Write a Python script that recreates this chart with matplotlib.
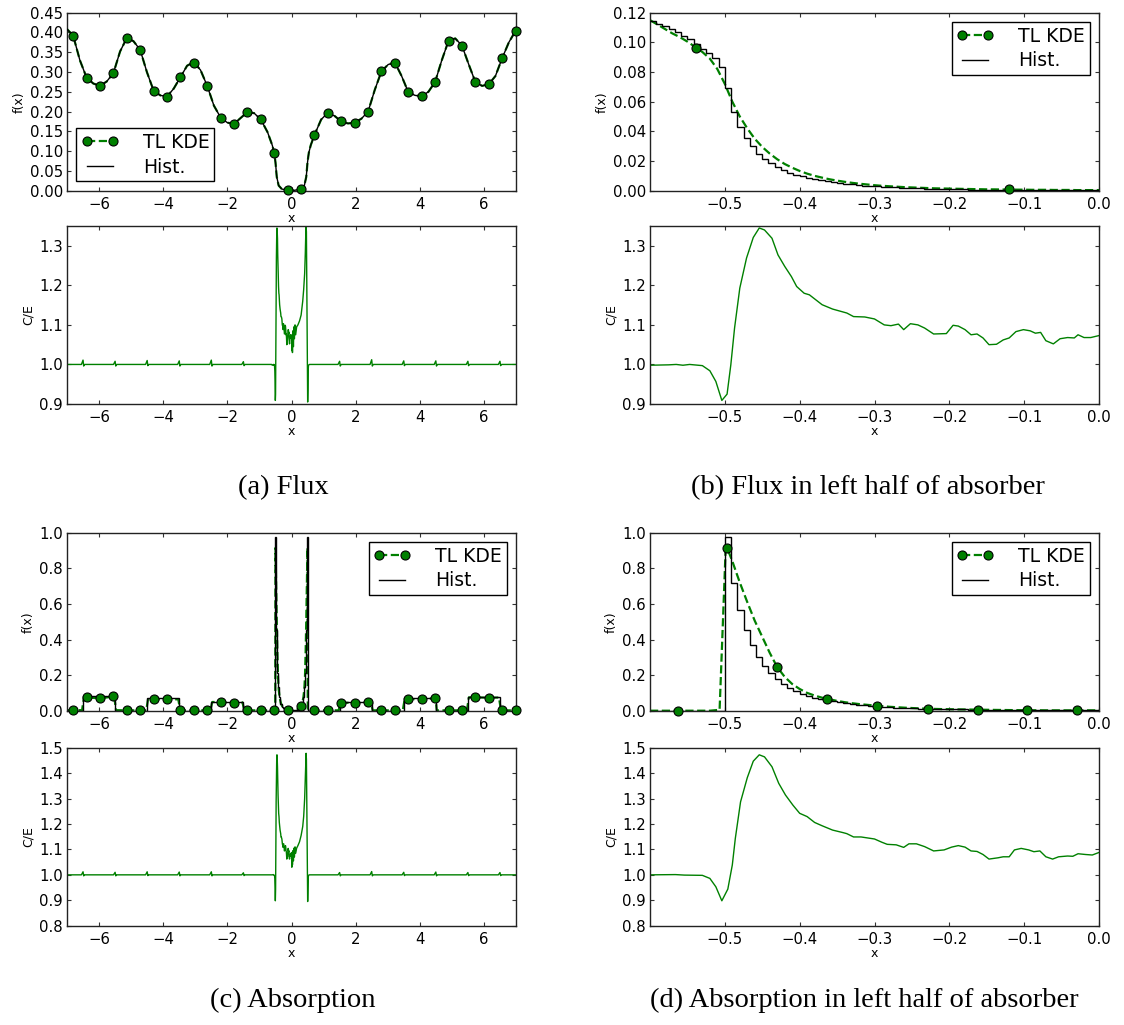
import numpy as np
import matplotlib
matplotlib.use("Agg")
import matplotlib.pyplot as plt
from matplotlib.lines import Line2D

# ---------------- DATA ----------------
# (a) Flux over whole domain: TL KDE curve (Hist. coincides at this scale)
flux_a_x = [-7.017, -6.808, -6.599, -6.390, -6.181, -5.972, -5.763, -5.554, -5.345, -5.136,
            -4.927, -4.718, -4.509, -4.300, -4.091, -3.882, -3.673, -3.464, -3.255, -3.046,
            -2.837, -2.628, -2.419, -2.210, -2.001, -1.792, -1.583, -1.374, -1.165, -0.956,
            -0.747,
            -0.600, -0.538, -0.500, -0.460, -0.400, -0.300, -0.120, 0.089, 0.300, 0.400,
            0.460, 0.500, 0.540, 0.600,
            0.716, 0.925, 1.134, 1.343, 1.552, 1.761, 1.970, 2.179, 2.388, 2.597,
            2.806, 3.015, 3.224, 3.433, 3.642, 3.851, 4.060, 4.269, 4.478, 4.687,
            4.896, 5.105, 5.314, 5.523, 5.732, 5.941, 6.150, 6.359, 6.568, 6.777, 6.986]
flux_a_kde = [0.410, 0.392, 0.330, 0.286, 0.271, 0.265, 0.276, 0.297, 0.352, 0.386,
              0.378, 0.356, 0.300, 0.253, 0.241, 0.238, 0.258, 0.287, 0.316, 0.325,
              0.305, 0.265, 0.215, 0.185, 0.172, 0.169, 0.184, 0.199, 0.196, 0.180,
              0.148,
              0.115, 0.096, 0.072, 0.035, 0.013, 0.004, 0.002, 0.001, 0.004, 0.013,
              0.035, 0.072, 0.096, 0.115,
              0.141, 0.180, 0.197, 0.189, 0.175, 0.170, 0.172, 0.182, 0.200, 0.255,
              0.302, 0.319, 0.324, 0.290, 0.249, 0.241, 0.239, 0.250, 0.275, 0.330,
              0.379, 0.385, 0.367, 0.320, 0.275, 0.265, 0.269, 0.290, 0.335, 0.375, 0.404]
flux_a_hist = flux_a_kde

# KDE marker sample points (panels a and c)
mark_x = [-6.808, -6.390, -5.972, -5.554, -5.136, -4.718, -4.300, -3.882, -3.464, -3.046,
          -2.628, -2.210, -1.792, -1.374, -0.956, -0.538, -0.120, 0.298, 0.716, 1.134,
          1.552, 1.970, 2.388, 2.806, 3.224, 3.642, 4.060, 4.478, 4.896, 5.314,
          5.732, 6.150, 6.568, 6.986]
flux_a_mark = [0.392, 0.286, 0.265, 0.297, 0.385, 0.356, 0.253, 0.238, 0.287, 0.324,
               0.265, 0.185, 0.169, 0.199, 0.180, 0.096, 0.002, 0.004, 0.141, 0.197,
               0.175, 0.172, 0.200, 0.302, 0.324, 0.249, 0.239, 0.275, 0.379, 0.367,
               0.275, 0.269, 0.335, 0.404]

# (b) Flux in left half of absorber
flux_b_x = np.round(np.arange(-0.60, 0.0001, 0.01), 2)
flux_b_kde = [0.1150, 0.1120, 0.1090, 0.1060, 0.1035, 0.1005, 0.0970, 0.0935, 0.0890, 0.0820,
              0.0720, 0.0600, 0.0500, 0.0420, 0.0350, 0.0295, 0.0250, 0.0212, 0.0180, 0.0155,
              0.0133, 0.0115, 0.0100, 0.0088, 0.0077, 0.0068, 0.0060, 0.0053, 0.0047, 0.0042,
              0.0037, 0.0033, 0.0030, 0.0027, 0.0024, 0.0022, 0.0020, 0.0018, 0.0016, 0.0015,
              0.0014, 0.0013, 0.0012, 0.0011, 0.0010, 0.0009, 0.0009, 0.0008, 0.0008, 0.0007,
              0.0007, 0.0006, 0.0006, 0.0006, 0.0005, 0.0005, 0.0005, 0.0004, 0.0004, 0.0004,
              0.0004]
flux_b_mark_x = [-0.538, -0.120]
flux_b_mark = [0.0964, 0.0010]
hist_b_edges = np.linspace(-0.6, 0.0, 73)
flux_b_hist = [0.1145, 0.1125, 0.1110, 0.1090, 0.1070, 0.1045, 0.1020, 0.0990, 0.0955, 0.0925,
               0.0895, 0.0836,
               0.0690, 0.0530, 0.0430, 0.0357, 0.0298, 0.0250, 0.0215, 0.0185, 0.0160, 0.0138,
               0.0120, 0.0107,
               0.0096, 0.0087, 0.0079, 0.0072, 0.0065, 0.0059, 0.0053, 0.0048, 0.0043, 0.0039,
               0.0035, 0.0032,
               0.0029, 0.0026, 0.0024, 0.0022, 0.0020, 0.0018,
               0.0016, 0.0015, 0.0014, 0.0013, 0.0012, 0.0011,
               0.0010, 0.0009, 0.0009, 0.0008, 0.0008, 0.0007,
               0.0007, 0.0006, 0.0006, 0.0005, 0.0005, 0.0005,
               0.0004, 0.0004, 0.0004, 0.0003, 0.0003, 0.0003,
               0.0003, 0.0003, 0.0002, 0.0002, 0.0002, 0.0002]

# (c) Absorption over whole domain
abs_c_x = [-7.0, -6.808, -6.53, -6.47, -6.39, -5.972, -5.554, -5.53, -5.47, -5.136,
           -4.718, -4.53, -4.47, -4.30, -3.882, -3.53, -3.47, -3.046, -2.628, -2.53,
           -2.47, -2.21, -1.792, -1.53, -1.47, -1.374, -0.956, -0.538, -0.507, -0.503,
           -0.499, -0.497, -0.48, -0.46, -0.44, -0.42, -0.40, -0.37, -0.33, -0.30,
           -0.25, -0.20, -0.12, -0.05, 0.05, 0.12, 0.20, 0.25, 0.298, 0.33,
           0.37, 0.40, 0.42, 0.44, 0.46, 0.48, 0.497, 0.499, 0.503, 0.507,
           0.716, 1.134, 1.47, 1.53, 1.552, 1.97, 2.388, 2.47, 2.53, 2.806,
           3.224, 3.47, 3.53, 3.642, 4.06, 4.478, 4.49, 4.53, 4.896, 5.314,
           5.47, 5.53, 5.732, 6.15, 6.47, 6.53, 6.568, 6.986, 7.0]
abs_c_kde = [0.003, 0.003, 0.003, 0.076, 0.075, 0.069, 0.080, 0.080, 0.003, 0.002,
             0.002, 0.002, 0.067, 0.066, 0.063, 0.064, 0.002, 0.002, 0.002, 0.002,
             0.049, 0.048, 0.045, 0.047, 0.002, 0.002, 0.002, 0.002, 0.005, 0.450,
             0.900, 0.915, 0.720, 0.505, 0.325, 0.190, 0.122, 0.073, 0.042, 0.029,
             0.015, 0.008, 0.004, 0.002, 0.002, 0.004, 0.009, 0.016, 0.027, 0.042,
             0.073, 0.122, 0.190, 0.325, 0.505, 0.720, 0.915, 0.900, 0.450, 0.005,
             0.002, 0.002, 0.002, 0.046, 0.045, 0.044, 0.050, 0.050, 0.002, 0.002,
             0.002, 0.002, 0.066, 0.065, 0.065, 0.070, 0.070, 0.002, 0.002, 0.002,
             0.002, 0.075, 0.075, 0.073, 0.074, 0.002, 0.002, 0.002, 0.002]
abs_c_mark = [0.003, 0.075, 0.069, 0.080, 0.002, 0.002, 0.066, 0.063, 0.002, 0.002,
              0.002, 0.048, 0.045, 0.002, 0.002, 0.002, 0.004, 0.027, 0.002, 0.002,
              0.045, 0.044, 0.050, 0.002, 0.002, 0.065, 0.065, 0.070, 0.002, 0.002,
              0.075, 0.073, 0.002, 0.002]
abs_c_edges = [-7.0, -6.5, -5.5, -4.5, -3.5, -2.5, -1.5, -0.5,
               -0.4917, -0.4833, -0.475, -0.4667, -0.4583, -0.45, -0.4417, -0.4333, -0.425, -0.40,
               -0.35, -0.30, -0.25, -0.20, -0.10,
               0.10, 0.20, 0.25, 0.30, 0.35, 0.40,
               0.425, 0.4333, 0.4417, 0.45, 0.4583, 0.4667, 0.475, 0.4833, 0.4917, 0.5,
               1.5, 2.5, 3.5, 4.5, 5.5, 6.5, 7.0]
abs_c_hist = [0.0, 0.080, 0.0, 0.069, 0.0, 0.050, 0.0,
              0.974, 0.719, 0.566, 0.453, 0.367, 0.303, 0.251, 0.210, 0.176, 0.135,
              0.075, 0.040, 0.022, 0.013, 0.006, 0.003,
              0.006, 0.013, 0.022, 0.040, 0.075, 0.135,
              0.176, 0.210, 0.251, 0.303, 0.367, 0.453, 0.566, 0.719, 0.974,
              0.0, 0.050, 0.0, 0.072, 0.0, 0.079, 0.0]

# (d) Absorption in left half of absorber
abs_d_x = [-0.60, -0.563, -0.52, -0.507, -0.503, -0.499, -0.497, -0.49, -0.48, -0.47,
           -0.46, -0.45, -0.44, -0.43, -0.42, -0.41, -0.40, -0.39, -0.38, -0.37,
           -0.363, -0.35, -0.34, -0.33, -0.32, -0.31, -0.30, -0.296, -0.28, -0.26,
           -0.24, -0.229, -0.21, -0.19, -0.162, -0.14, -0.12, -0.096, -0.07, -0.05,
           -0.029, 0.0]
abs_d_kde = [0.0, 0.0, 0.0, 0.005, 0.45, 0.90, 0.915, 0.84, 0.72, 0.61,
             0.505, 0.415, 0.325, 0.245, 0.190, 0.150, 0.122, 0.100, 0.085, 0.073,
             0.067, 0.055, 0.048, 0.042, 0.037, 0.033, 0.029, 0.028, 0.022, 0.017,
             0.013, 0.011, 0.009, 0.0075, 0.006, 0.0045, 0.0035, 0.0025, 0.002, 0.002,
             0.002, 0.002]
abs_d_mark_x = [-0.563, -0.497, -0.430, -0.363, -0.296, -0.229, -0.162, -0.096, -0.029]
abs_d_mark = [0.0, 0.915, 0.245, 0.067, 0.028, 0.011, 0.006, 0.0025, 0.002]
abs_d_hist = [0.0] * 12 + [
    0.974, 0.719, 0.566, 0.453, 0.367, 0.303, 0.251, 0.210, 0.176, 0.150, 0.128, 0.110,
    0.096, 0.084, 0.074, 0.066, 0.059, 0.053, 0.047, 0.042, 0.038, 0.034, 0.030, 0.026,
    0.022, 0.020, 0.018, 0.017, 0.015, 0.014, 0.013, 0.012, 0.011, 0.010, 0.009, 0.0085,
    0.0080, 0.0075, 0.0070, 0.0065, 0.0060, 0.0056, 0.0052, 0.0048, 0.0045, 0.0042, 0.0039, 0.0036,
    0.0034, 0.0032, 0.0030, 0.0028, 0.0027, 0.0026, 0.0025, 0.0024, 0.0023, 0.0022, 0.0022, 0.0021]

# C/E (flux): outside absorber (spikes at region boundaries), left half (panel b), right half
ce_out_left_x = [-7.0, -6.55, -6.5, -6.48, -6.45, -5.55, -5.5, -5.48, -5.45, -4.55, -4.5, -4.48, -4.45,
                 -3.55, -3.5, -3.48, -3.45, -2.55, -2.5, -2.48, -2.45, -1.55, -1.5, -1.48, -1.45, -0.62]
ce_out_right_x = [0.60, 1.45, 1.5, 1.52, 1.55, 2.45, 2.5, 2.52, 2.55, 3.45, 3.5, 3.52, 3.55,
                  4.45, 4.5, 4.52, 4.55, 5.45, 5.5, 5.52, 5.55, 6.45, 6.5, 6.52, 6.55, 7.0]
cef_out_left = [1.0, 1.0, 1.011, 0.996, 1.0, 1.0, 1.008, 0.996, 1.0, 1.0, 1.010, 0.997, 1.0,
                1.0, 1.009, 0.996, 1.0, 1.0, 1.011, 0.996, 1.0, 1.0, 1.007, 0.997, 1.0, 1.0]
cef_out_right = [1.0, 1.0, 1.008, 0.996, 1.0, 1.0, 1.012, 0.996, 1.0, 1.0, 1.009, 0.997, 1.0,
                 1.0, 1.009, 0.996, 1.0, 1.0, 1.008, 0.997, 1.0, 1.0, 1.008, 0.997, 1.0, 1.0]
cef_b_x = [-0.600, -0.575, -0.565, -0.556, -0.547, -0.530, -0.520, -0.512, -0.504, -0.497,
           -0.492, -0.487, -0.480, -0.471, -0.462, -0.454, -0.447, -0.437, -0.429, -0.420,
           -0.411, -0.404, -0.394, -0.387, -0.370, -0.356, -0.337, -0.328, -0.313, -0.300,
           -0.287, -0.278, -0.268, -0.261, -0.252, -0.242, -0.233, -0.221, -0.204, -0.195,
           -0.188, -0.179, -0.171, -0.163, -0.155, -0.147, -0.137, -0.128, -0.120, -0.111,
           -0.101, -0.092, -0.085, -0.078, -0.071, -0.061, -0.052, -0.042, -0.033, -0.028,
           -0.020, -0.011, 0.000]
cef_b = [0.998, 0.999, 1.000, 0.998, 1.000, 0.997, 0.984, 0.957, 0.909, 0.925,
         0.999, 1.092, 1.193, 1.269, 1.321, 1.345, 1.340, 1.319, 1.277, 1.248,
         1.222, 1.197, 1.180, 1.176, 1.151, 1.140, 1.130, 1.121, 1.120, 1.115,
         1.100, 1.098, 1.102, 1.088, 1.103, 1.100, 1.092, 1.077, 1.078, 1.099,
         1.097, 1.088, 1.075, 1.077, 1.067, 1.050, 1.051, 1.062, 1.067, 1.083,
         1.088, 1.085, 1.079, 1.081, 1.060, 1.052, 1.065, 1.068, 1.067, 1.075,
         1.068, 1.068, 1.073]
ce_right_x = [0.010, 0.020, 0.030, 0.045, 0.060, 0.075, 0.090, 0.110, 0.130, 0.160,
              0.200, 0.250, 0.300, 0.350, 0.380, 0.410, 0.430, 0.445, 0.455, 0.465,
              0.475, 0.485, 0.495, 0.504, 0.512, 0.520, 0.530, 0.560]
cef_right = [1.035, 1.075, 1.030, 1.085, 1.045, 1.095, 1.065, 1.100, 1.075, 1.095,
             1.100, 1.110, 1.125, 1.160, 1.190, 1.230, 1.280, 1.330, 1.350, 1.335,
             1.220, 1.080, 0.960, 0.905, 0.935, 0.985, 0.998, 1.000]

# C/E (absorption)
cea_out_left = [1.0, 1.0, 1.012, 0.996, 1.0, 1.0, 1.010, 0.996, 1.0, 1.0, 1.012, 0.997, 1.0,
                1.0, 1.011, 0.996, 1.0, 1.0, 1.012, 0.996, 1.0, 1.0, 1.008, 0.997, 1.0, 1.0]
cea_out_right = [1.0, 1.0, 1.009, 0.996, 1.0, 1.0, 1.013, 0.996, 1.0, 1.0, 1.010, 0.997, 1.0,
                 1.0, 1.011, 0.996, 1.0, 1.0, 1.009, 0.997, 1.0, 1.0, 1.009, 0.997, 1.0, 1.0]
cea_d_x = [-0.600, -0.566, -0.554, -0.530, -0.520, -0.512, -0.504, -0.496, -0.490, -0.486,
           -0.479, -0.470, -0.462, -0.454, -0.447, -0.437, -0.428, -0.419, -0.409, -0.400,
           -0.390, -0.380, -0.370, -0.356, -0.342, -0.337, -0.328, -0.318, -0.300, -0.290,
           -0.283, -0.271, -0.261, -0.254, -0.244, -0.233, -0.221, -0.207, -0.197, -0.188,
           -0.179, -0.171, -0.163, -0.155, -0.147, -0.135, -0.128, -0.120, -0.113, -0.104,
           -0.094, -0.087, -0.079, -0.071, -0.062, -0.054, -0.042, -0.035, -0.028, -0.018,
           -0.009, 0.000]
cea_d = [1.000, 1.001, 0.999, 0.998, 0.986, 0.953, 0.898, 0.944, 1.039, 1.143,
         1.287, 1.382, 1.447, 1.472, 1.464, 1.425, 1.360, 1.314, 1.274, 1.242,
         1.229, 1.206, 1.193, 1.176, 1.166, 1.162, 1.149, 1.149, 1.141, 1.128,
         1.120, 1.118, 1.108, 1.122, 1.122, 1.111, 1.094, 1.098, 1.109, 1.115,
         1.109, 1.094, 1.092, 1.080, 1.062, 1.067, 1.071, 1.071, 1.098, 1.104,
         1.098, 1.091, 1.094, 1.071, 1.062, 1.071, 1.074, 1.073, 1.083, 1.080,
         1.078, 1.088]
cea_right = [1.030, 1.080, 1.040, 1.095, 1.055, 1.105, 1.070, 1.110, 1.085, 1.105,
             1.115, 1.130, 1.155, 1.190, 1.230, 1.300, 1.380, 1.450, 1.478, 1.455,
             1.300, 1.100, 0.950, 0.895, 0.935, 0.985, 0.998, 1.000]

captions = ["(a) Flux", "(b) Flux in left half of absorber",
            "(c) Absorption", "(d) Absorption in left half of absorber"]

# ---------------- PLOT ----------------
plt.rcParams['font.family'] = ['DejaVu Sans']
G = '#008000'
W, H = 1124.0, 1025.0
fig = plt.figure(figsize=(11.24, 10.25), dpi=100)


def ax_at(left, top, w=449.0, h=178.0):
    return fig.add_axes([left / W, 1 - (top + h) / H, w / W, h / H])


def style(ax, xlim, xticks, ylim, yticks, ylabel):
    ax.set_xlim(*xlim)
    ax.set_xticks(xticks)
    ax.set_ylim(*ylim)
    ax.set_yticks(yticks)
    ax.tick_params(axis='both', which='major', direction='in', length=3, width=0.8,
                   top=True, right=True, labelsize=10.7, color='#333333')
    ax.tick_params(axis='x', pad=4.5)
    ax.tick_params(axis='y', pad=3)
    ax.set_xlabel('x', fontsize=9, labelpad=0)
    ax.set_ylabel(ylabel, fontsize=9, labelpad=3)
    for s in ax.spines.values():
        s.set_linewidth(1.0)
        s.set_color('#222222')


def add_legend(ax, loc):
    h_kde = Line2D([], [], color=G, ls='--', lw=1.6, marker='o', mfc=G, mec='k',
                   ms=6.5, mew=0.8)
    h_hist = Line2D([], [], color='k', lw=1.0)
    leg = ax.legend([h_kde, h_hist], ['TL KDE', 'Hist.'], loc=loc, numpoints=2,
                    fontsize=13.5, fancybox=False, framealpha=1.0, borderpad=0.25,
                    labelspacing=0.3, handlelength=2.0, handletextpad=1.3,
                    borderaxespad=0.5)
    leg.get_frame().set_edgecolor('k')
    leg.get_frame().set_linewidth(1.0)


def kde(ax, x, y):
    ax.plot(x, y, color=G, ls='--', lw=1.6, zorder=2)


def marks(ax, x, y):
    ax.plot(x, y, ls='none', marker='o', mfc=G, mec='k', ms=6.5, mew=0.8,
            zorder=5, clip_on=False)


xt_full = [-6, -4, -2, 0, 2, 4, 6]
xt_zoom = [-0.5, -0.4, -0.3, -0.2, -0.1, 0.0]
yt_ce1 = [0.9, 1.0, 1.1, 1.2, 1.3]
yt_ce2 = [0.8, 0.9, 1.0, 1.1, 1.2, 1.3, 1.4, 1.5]

# (a)
axA1 = ax_at(67, 12.7)
kde(axA1, flux_a_x, flux_a_kde)
axA1.plot(flux_a_x, flux_a_hist, color='k', lw=1.0, zorder=3)
marks(axA1, mark_x, flux_a_mark)
style(axA1, (-7, 7), xt_full, (0, 0.45),
      [0.0, 0.05, 0.10, 0.15, 0.20, 0.25, 0.30, 0.35, 0.40, 0.45], 'f(x)')
add_legend(axA1, 'lower left')

axA2 = ax_at(67, 226)
axA2.plot(ce_out_left_x + cef_b_x + ce_right_x + ce_out_right_x,
          cef_out_left + cef_b + cef_right + cef_out_right, color=G, lw=1.0)
style(axA2, (-7, 7), xt_full, (0.9, 1.35), yt_ce1, 'C/E')

# (b)
axB1 = ax_at(650, 12.7)
kde(axB1, flux_b_x, flux_b_kde)
axB1.stairs(flux_b_hist, hist_b_edges, color='k', lw=1.0, baseline=None, zorder=3)
marks(axB1, flux_b_mark_x, flux_b_mark)
style(axB1, (-0.6, 0.0), xt_zoom, (0, 0.12),
      [0.0, 0.02, 0.04, 0.06, 0.08, 0.10, 0.12], 'f(x)')
add_legend(axB1, 'upper right')

axB2 = ax_at(650, 226)
axB2.plot(cef_b_x, cef_b, color=G, lw=1.0)
style(axB2, (-0.6, 0.0), xt_zoom, (0.9, 1.35), yt_ce1, 'C/E')

# (c)
axC1 = ax_at(67, 532.7)
kde(axC1, abs_c_x, abs_c_kde)
axC1.stairs(abs_c_hist, abs_c_edges, color='k', lw=1.0, baseline=None, zorder=3)
marks(axC1, mark_x, abs_c_mark)
style(axC1, (-7, 7), xt_full, (0, 1.0), [0.0, 0.2, 0.4, 0.6, 0.8, 1.0], 'f(x)')
add_legend(axC1, 'upper right')

axC2 = ax_at(67, 747.7)
axC2.plot(ce_out_left_x + cea_d_x + ce_right_x + ce_out_right_x,
          cea_out_left + cea_d + cea_right + cea_out_right, color=G, lw=1.0)
style(axC2, (-7, 7), xt_full, (0.8, 1.5), yt_ce2, 'C/E')

# (d)
axD1 = ax_at(650, 532.7)
kde(axD1, abs_d_x, abs_d_kde)
axD1.stairs(abs_d_hist, hist_b_edges, color='k', lw=1.0, baseline=None, zorder=3)
marks(axD1, abs_d_mark_x, abs_d_mark)
style(axD1, (-0.6, 0.0), xt_zoom, (0, 1.0), [0.0, 0.2, 0.4, 0.6, 0.8, 1.0], 'f(x)')
add_legend(axD1, 'upper right')

axD2 = ax_at(650, 747.7)
axD2.plot(cea_d_x, cea_d, color=G, lw=1.0)
style(axD2, (-0.6, 0.0), xt_zoom, (0.8, 1.5), yt_ce2, 'C/E')

# captions
cap_pos = [(283, 488), (868, 488), (293, 1000), (864, 1000)]
for (cx, cy), txt in zip(cap_pos, captions):
    fig.text(cx / W, 1 - cy / H, txt, ha='center', va='center', fontsize=20.5,
             family=['Liberation Serif', 'DejaVu Serif'])

fig.savefig('out.png', dpi=100)
